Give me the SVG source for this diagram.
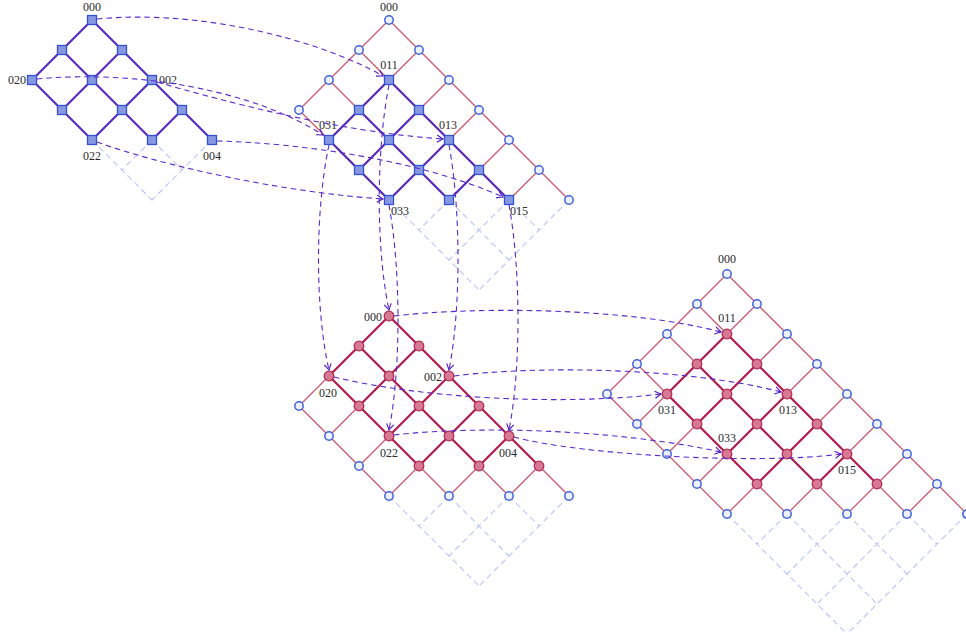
<svg xmlns="http://www.w3.org/2000/svg" xmlns:xlink="http://www.w3.org/1999/xlink" width="966" height="641" viewBox="0 0 966 641">
  <style>
    .ghost { fill: none; stroke: #b9c3f5; stroke-width: 1.1; stroke-dasharray: 6 4; }
    .thin { fill: none; stroke: #c9566e; stroke-width: 1.3; }
    .blue { fill: none; stroke: #5b2cbf; stroke-width: 2.2; stroke-linejoin: round; }
    .crim { fill: none; stroke: #b51f4f; stroke-width: 2.2; stroke-linejoin: round; }
    .map { fill: none; stroke: #5a28cc; stroke-width: 1.1; stroke-dasharray: 5.5 4; marker-end: url(#arr); }
    text { font-family: "Liberation Serif", "DejaVu Serif", serif; font-size: 12px; fill: #2a2a2a; }
    .m { text-anchor: middle; }
    .e { text-anchor: end; }
  </style>
  <defs>
    <rect id="sq" x="-4.5" y="-4.5" width="9" height="9" fill="#8798e0" stroke="#3450d4" stroke-width="1.3"/>
    <circle id="ci" r="4.2" fill="#eef1fc" stroke="#3f63db" stroke-width="1.5"/>
    <circle id="pk" r="4.8" fill="#d57a92" stroke="#b42a55" stroke-width="1.3"/>
    <marker id="arr" viewBox="-8 -5 10 10" refX="0" refY="0" markerWidth="10" markerHeight="10" markerUnits="userSpaceOnUse" orient="auto">
      <path d="M-6,-3.6 Q-2,-1 0,0 Q-2,1 -6,3.6" fill="none" stroke="#4a14c0" stroke-width="1.1"/>
    </marker>
  </defs>

  <!-- lattice A: 3x5 grid, squares -->
  <g id="latticeA">
    <g id="A-edges">
      <path class="ghost" d="M152,140 L182,170 M92,140 L152,200 M152,140 L122,170 M212,140 L152,200"/>
      <path class="blue" d="M92,20 L212,140 M62,50 L152,140 M32,80 L92,140 M92,20 L32,80 M122,50 L62,110 M152,80 L92,140 M182,110 L152,140"/>
    </g>
    <g id="A000"><use href="#sq" x="92" y="20"/><text class="m" x="92" y="11">000</text></g>
    <g id="A010"><use href="#sq" x="62" y="50"/></g>
    <g id="A001"><use href="#sq" x="122" y="50"/></g>
    <g id="A020"><use href="#sq" x="32" y="80"/><text class="e" x="26" y="84">020</text></g>
    <g id="A011"><use href="#sq" x="92" y="80"/></g>
    <g id="A002"><use href="#sq" x="152" y="80"/><text x="159" y="84">002</text></g>
    <g id="A021"><use href="#sq" x="62" y="110"/></g>
    <g id="A012"><use href="#sq" x="122" y="110"/></g>
    <g id="A003"><use href="#sq" x="182" y="110"/></g>
    <g id="A022"><use href="#sq" x="92" y="140"/><text class="m" x="92" y="160">022</text></g>
    <g id="A013"><use href="#sq" x="152" y="140"/></g>
    <g id="A004"><use href="#sq" x="212" y="140"/><text class="m" x="212" y="160">004</text></g>
  </g>

  <!-- lattice B: 4x7 grid with the square sublattice -->
  <g id="latticeB">
    <g id="B-edges">
      <path class="ghost" d="M509,200 L539,230 M449,200 L509,260 M389,200 L479,290 M449,200 L419,230 M509,200 L449,260 M569,200 L479,290"/>
      <path class="thin" d="M389,20 L569,200 M359,50 L509,200 M329,80 L449,200 M299,110 L389,200 M389,20 L299,110 M419,50 L329,140 M449,80 L359,170 M479,110 L389,200 M509,140 L449,200 M539,170 L509,200"/>
      <path class="blue" d="M389,80 L509,200 M359,110 L449,200 M329,140 L389,200 M389,80 L329,140 M419,110 L359,170 M449,140 L389,200 M479,170 L449,200"/>
    </g>
    <g id="B000"><use href="#ci" x="389" y="20"/><text class="m" x="389" y="11">000</text></g>
    <g id="B001"><use href="#ci" x="419" y="50"/></g>
    <g id="B002"><use href="#ci" x="449" y="80"/></g>
    <g id="B003"><use href="#ci" x="479" y="110"/></g>
    <g id="B004"><use href="#ci" x="509" y="140"/></g>
    <g id="B005"><use href="#ci" x="539" y="170"/></g>
    <g id="B006"><use href="#ci" x="569" y="200"/></g>
    <g id="B010"><use href="#ci" x="359" y="50"/></g>
    <g id="B020"><use href="#ci" x="329" y="80"/></g>
    <g id="B030"><use href="#ci" x="299" y="110"/></g>
    <g id="B011"><use href="#sq" x="389" y="80"/><text class="m" x="389" y="69">011</text></g>
    <g id="B012"><use href="#sq" x="419" y="110"/></g>
    <g id="B013"><use href="#sq" x="449" y="140"/><text class="m" x="448" y="129">013</text></g>
    <g id="B014"><use href="#sq" x="479" y="170"/></g>
    <g id="B015"><use href="#sq" x="509" y="200"/><text class="m" x="519" y="215">015</text></g>
    <g id="B021"><use href="#sq" x="359" y="110"/></g>
    <g id="B022"><use href="#sq" x="389" y="140"/></g>
    <g id="B023"><use href="#sq" x="419" y="170"/></g>
    <g id="B024"><use href="#sq" x="449" y="200"/></g>
    <g id="B031"><use href="#sq" x="329" y="140"/><text class="m" x="328" y="129">031</text></g>
    <g id="B032"><use href="#sq" x="359" y="170"/></g>
    <g id="B033"><use href="#sq" x="389" y="200"/><text class="m" x="400" y="215">033</text></g>
  </g>

  <!-- lattice C: 4x7 grid with the filled sublattice -->
  <g id="latticeC">
    <g id="C-edges">
      <path class="ghost" d="M509,496 L539,526 M449,496 L509,556 M389,496 L479,586 M449,496 L419,526 M509,496 L449,556 M569,496 L479,586"/>
      <path class="thin" d="M389,316 L569,496 M359,346 L509,496 M329,376 L449,496 M299,406 L389,496 M389,316 L299,406 M419,346 L329,436 M449,376 L359,466 M479,406 L389,496 M509,436 L449,496 M539,466 L509,496"/>
      <path class="crim" d="M389,316 L539,466 M359,346 L479,466 M329,376 L419,466 M389,316 L329,376 M419,346 L359,406 M449,376 L389,436 M479,406 L419,466 M509,436 L479,466"/>
    </g>
    <g id="C000"><use href="#pk" x="389" y="316"/><text class="e" x="382" y="321">000</text></g>
    <g id="C001"><use href="#pk" x="419" y="346"/></g>
    <g id="C002"><use href="#pk" x="449" y="376"/><text class="e" x="442" y="381">002</text></g>
    <g id="C003"><use href="#pk" x="479" y="406"/></g>
    <g id="C004"><use href="#pk" x="509" y="436"/><text class="m" x="508" y="457">004</text></g>
    <g id="C005"><use href="#pk" x="539" y="466"/></g>
    <g id="C010"><use href="#pk" x="359" y="346"/></g>
    <g id="C011"><use href="#pk" x="389" y="376"/></g>
    <g id="C012"><use href="#pk" x="419" y="406"/></g>
    <g id="C013"><use href="#pk" x="449" y="436"/></g>
    <g id="C014"><use href="#pk" x="479" y="466"/></g>
    <g id="C020"><use href="#pk" x="329" y="376"/><text class="m" x="328" y="397">020</text></g>
    <g id="C021"><use href="#pk" x="359" y="406"/></g>
    <g id="C022"><use href="#pk" x="389" y="436"/><text class="m" x="389" y="457">022</text></g>
    <g id="C023"><use href="#pk" x="419" y="466"/></g>
    <g id="C030"><use href="#ci" x="299" y="406"/></g>
    <g id="C031"><use href="#ci" x="329" y="436"/></g>
    <g id="C032"><use href="#ci" x="359" y="466"/></g>
    <g id="C033"><use href="#ci" x="389" y="496"/></g>
    <g id="C024"><use href="#ci" x="449" y="496"/></g>
    <g id="C015"><use href="#ci" x="509" y="496"/></g>
    <g id="C006"><use href="#ci" x="569" y="496"/></g>
  </g>

  <!-- lattice D: 5x9 grid with the filled sublattice -->
  <g id="latticeD">
    <g id="D-edges">
      <path class="ghost" d="M907,514 L937,544 M847,514 L907,574 M787,514 L877,604 M727,514 L847,634 M787,514 L757,544 M847,514 L787,574 M907,514 L817,604 M967,514 L847,634"/>
      <path class="thin" d="M727,274 L967,514 M697,304 L907,514 M667,334 L847,514 M637,364 L787,514 M607,394 L727,514 M727,274 L607,394 M757,304 L637,424 M787,334 L667,454 M817,364 L697,484 M847,394 L727,514 M877,424 L787,514 M907,454 L847,514 M937,484 L907,514"/>
      <path class="crim" d="M727,334 L877,484 M697,364 L817,484 M667,394 L757,484 M727,334 L667,394 M757,364 L697,424 M787,394 L727,454 M817,424 L757,484 M847,454 L817,484"/>
    </g>
    <g id="D000"><use href="#ci" x="727" y="274"/><text class="m" x="727" y="263">000</text></g>
    <g id="D001"><use href="#ci" x="757" y="304"/></g>
    <g id="D002"><use href="#ci" x="787" y="334"/></g>
    <g id="D003"><use href="#ci" x="817" y="364"/></g>
    <g id="D004"><use href="#ci" x="847" y="394"/></g>
    <g id="D005"><use href="#ci" x="877" y="424"/></g>
    <g id="D006"><use href="#ci" x="907" y="454"/></g>
    <g id="D007"><use href="#ci" x="937" y="484"/></g>
    <g id="D008"><use href="#ci" x="967" y="514"/></g>
    <g id="D010"><use href="#ci" x="697" y="304"/></g>
    <g id="D020"><use href="#ci" x="667" y="334"/></g>
    <g id="D030"><use href="#ci" x="637" y="364"/></g>
    <g id="D040"><use href="#ci" x="607" y="394"/></g>
    <g id="D041"><use href="#ci" x="637" y="424"/></g>
    <g id="D042"><use href="#ci" x="667" y="454"/></g>
    <g id="D043"><use href="#ci" x="697" y="484"/></g>
    <g id="D044"><use href="#ci" x="727" y="514"/></g>
    <g id="D035"><use href="#ci" x="787" y="514"/></g>
    <g id="D026"><use href="#ci" x="847" y="514"/></g>
    <g id="D017"><use href="#ci" x="907" y="514"/></g>
    <g id="D011"><use href="#pk" x="727" y="334"/><text class="m" x="727" y="322">011</text></g>
    <g id="D012"><use href="#pk" x="757" y="364"/></g>
    <g id="D013"><use href="#pk" x="787" y="394"/><text class="m" x="788" y="414">013</text></g>
    <g id="D014"><use href="#pk" x="817" y="424"/></g>
    <g id="D015"><use href="#pk" x="847" y="454"/><text class="m" x="847" y="474">015</text></g>
    <g id="D016"><use href="#pk" x="877" y="484"/></g>
    <g id="D021"><use href="#pk" x="697" y="364"/></g>
    <g id="D022"><use href="#pk" x="727" y="394"/></g>
    <g id="D023"><use href="#pk" x="757" y="424"/></g>
    <g id="D024"><use href="#pk" x="787" y="454"/></g>
    <g id="D025"><use href="#pk" x="817" y="484"/></g>
    <g id="D031"><use href="#pk" x="667" y="394"/><text class="m" x="667" y="414">031</text></g>
    <g id="D032"><use href="#pk" x="697" y="424"/></g>
    <g id="D033"><use href="#pk" x="727" y="454"/><text class="m" x="727" y="442">033</text></g>
    <g id="D034"><use href="#pk" x="757" y="484"/></g>
  </g>

  <!-- dashed maps between the lattices -->
  <g id="connectors">
    <path class="map" d="M97,19 C200,9 320,40 383,76"/>
    <path class="map" d="M37,79 C130,70 250,88 323,135"/>
    <path class="map" d="M157,82 C230,103 340,132 443,139"/>
    <path class="map" d="M97,142 C160,165 280,192 383,199"/>
    <path class="map" d="M217,141 C300,143 420,160 503,197"/>

    <path class="map" d="M389,85 C376,150 376,250 389,310"/>
    <path class="map" d="M329,145 C315,210 315,310 329,370"/>
    <path class="map" d="M449,145 C461,210 461,310 449,370"/>
    <path class="map" d="M389,205 C401,270 401,370 389,430"/>
    <path class="map" d="M509,205 C521,270 521,370 509,430"/>

    <path class="map" d="M394,316 C480,306 630,308 721,332"/>
    <path class="map" d="M334,377 C420,398 560,406 661,394"/>
    <path class="map" d="M454,376 C540,365 690,368 781,392"/>
    <path class="map" d="M394,435 C470,426 610,428 721,452"/>
    <path class="map" d="M514,437 C580,455 760,465 841,454"/>
  </g>
</svg>
